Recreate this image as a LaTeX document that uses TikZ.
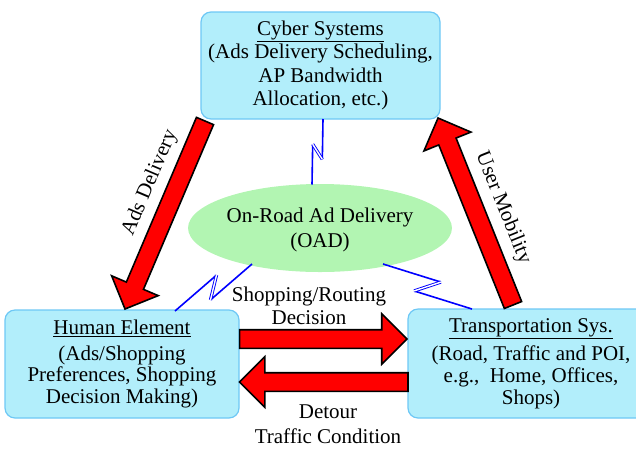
\documentclass[tikz,border=0pt]{standalone}
\usepackage{fontspec}
\setmainfont{Liberation Serif}
\usetikzlibrary{shapes.geometric,shapes.arrows,calc}
\definecolor{boxfill}{RGB}{178,238,251}
\definecolor{boxline}{RGB}{110,200,245}
\definecolor{ovalfill}{RGB}{178,245,178}
\definecolor{boltblue}{RGB}{0,0,255}
\begin{document}
\begin{tikzpicture}[x=1pt,y=-1pt,
  sysbox/.style={draw=boxline, line width=1.2pt, fill=boxfill, rounded corners=10pt,
    align=center, font=\fontsize{21}{23.5}\selectfont, inner sep=0pt},
  oad/.style={ellipse, fill=ovalfill, align=center, inner sep=0pt,
    font=\fontsize{21}{25}\selectfont},
  lbl/.style={align=center, font=\fontsize{21}{23}\selectfont, inner sep=0pt},
  fatarrow/.style={single arrow, draw=black, fill=red, line width=1.6pt,
    inner xsep=0pt, inner ysep=8.5pt, single arrow head extend=16pt, outer sep=0pt,
    sloped, allow upside down, line join=miter},
  bolt/.style={draw=boltblue, line width=1.6pt, line join=miter},
  boltmid/.style={draw=boltblue, line width=0.9pt, double=white, double distance=1.4pt}
]
\clip (0,0) rectangle (636,448);

% boxes
\node[sysbox, minimum width=239pt, minimum height=107pt] (cyber) at (320.5,65.5)
  {\underline{Cyber Systems}\\(Ads Delivery Scheduling,\\AP Bandwidth\\Allocation, etc.)};
\node[sysbox, minimum width=234pt, minimum height=108pt, font=\fontsize{21}{21.5}\selectfont] (human) at (122,364)
  {\underline{Human Element}\\[4pt](Ads/Shopping\\Preferences, Shopping\\Decision Making)};
\node[sysbox, minimum width=246pt, minimum height=109pt, font=\fontsize{21}{22}\selectfont] (trans) at (531,363.5)
  {\underline{Transportation Sys.}\\[6pt](Road, Traffic and POI,\\e.g.,\ \ Home, Offices,\\Shops)};

% ellipse
\node[oad, minimum width=220pt, minimum height=88pt, text depth=-4pt] (oadnode) at (320,228)
  {On-Road Ad Delivery\\(OAD)};

% lightning bolts
\coordinate (b1s) at (323,119);
\coordinate (b1e) at (312,184.5);
\coordinate (b2s) at (175,311);
\coordinate (b2e) at (252,264);
\coordinate (b3s) at (383,264);
\coordinate (b3e) at (472,309);
\foreach \s/\e/\h in {b1s/b1e/6pt, b2s/b2e/9pt, b3s/b3e/10pt}{
  \coordinate (\s A) at ($(\s)!0.6!(\e)!\h!90:(\e)$);
  \coordinate (\s B) at ($(\s)!0.4!(\e)!\h!-90:(\e)$);
  \draw[bolt] (\s) -- (\s A);
  \draw[bolt] (\s B) -- (\e);
  \draw[boltmid] (\s A) -- (\s B);
}

% fat arrows
\coordinate (a1t) at (205,121);
\coordinate (a1h) at (125,309);
\coordinate (a2t) at (513,305);
\coordinate (a2h) at (438,118);
\coordinate (a3t) at (human.east |- 0,339);
\coordinate (a3h) at (407,339);
\coordinate (a4t) at (408,382);
\coordinate (a4h) at (239.5,382);
\foreach \t/\h in {a1t/a1h, a2t/a2h, a3t/a3h, a4t/a4h}{
  \path let \p1=($(\h)-(\t)$), \n1={veclen(\x1,\y1)} in
    (\t) -- node[fatarrow, pos=0, anchor=tail, minimum height=\n1] {} (\h);
}

% labels
\node[lbl, rotate=67] (adsdel) at (150,183) {Ads Delivery};
\node[lbl, rotate=-68] (usermob) at (503,208) {User Mobility};
\node[lbl] (shop) at (309,306) {Shopping/Routing\\Decision};
\node[lbl, font=\fontsize{21}{25}\selectfont] (detour) at (328,424.5) {Detour\\Traffic Condition};
\end{tikzpicture}
\end{document}
